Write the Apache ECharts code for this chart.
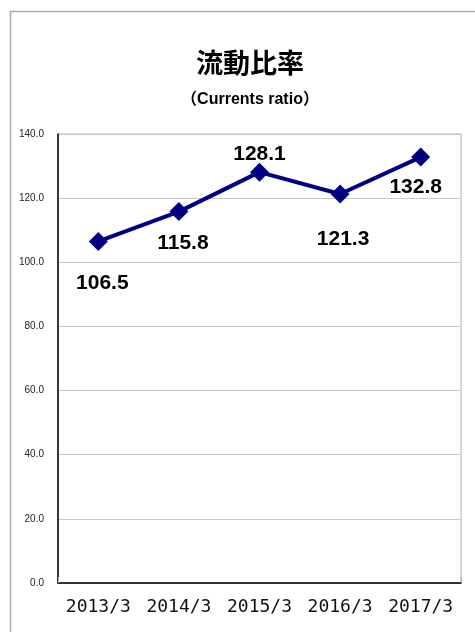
<!DOCTYPE html>
<html>
<head>
<meta charset="utf-8">
<script src="https://cdn.jsdelivr.net/npm/echarts@6/dist/echarts.min.js"></script>
<style>html,body{margin:0;padding:0;background:#fff;}#c{width:475px;height:632px;}</style>
</head>
<body>
<div id="c"></div>
<script>
const categories = ['2013/3', '2014/3', '2015/3', '2016/3', '2017/3'];
const values = [106.5, 115.8, 128.1, 121.3, 132.8];
const yTicks = [0, 20, 40, 60, 80, 100, 120, 140];
const labelOffsets = [[4, 42], [4, 32], [0, -18], [3, 45], [-5, 30]];
const titleText = '流動比率';
const subtitleText = '（Currents ratio）';

const chart = echarts.init(document.getElementById('c'));
chart.setOption({
  animation: false,
  backgroundColor: '#fff',
  graphic: [{
    type: 'rect', left: 8, top: 9, shape: { width: 520, height: 700 },
    style: { fill: 'none', stroke: '#aaaaaa', lineWidth: 1.5 }, silent: true, z: -1
  }, {
    type: 'text', x: 250, y: 63,
    style: { text: titleText, textAlign: 'center', textVerticalAlign: 'middle',
      font: 'bold 27px "Noto Sans CJK JP"', fill: '#000' }
  }, {
    type: 'text', x: 250, y: 100,
    style: { text: subtitleText, textAlign: 'center', textVerticalAlign: 'middle',
      font: 'bold 16px "Liberation Sans", "Noto Sans CJK JP"', fill: '#000' }
  }],
  grid: { left: 58, right: 14, top: 134, bottom: 49, show: true, borderColor: '#b0b0b0', borderWidth: 1 },
  xAxis: {
    type: 'category', data: categories, boundaryGap: true,
    axisLine: { lineStyle: { color: '#000', width: 1.5 } },
    axisTick: { show: true, inside: true, length: 6, interval: (i) => i === 3, lineStyle: { color: '#aaa', width: 1 } },
    axisLabel: { interval: 0, margin: 15, fontFamily: 'DejaVu Sans Mono', fontSize: 18, color: '#111' }
  },
  yAxis: {
    type: 'value', min: yTicks[0], max: yTicks[yTicks.length - 1], interval: 20,
    axisLine: { show: true, lineStyle: { color: '#000', width: 1.5 } },
    axisTick: { show: false },
    splitLine: { lineStyle: { color: '#c8c8c8', width: 1 } },
    axisLabel: { margin: 14, fontFamily: 'Liberation Sans', fontSize: 10, color: '#222', formatter: (v) => v.toFixed(1) }
  },
  series: [{
    type: 'line',
    data: values.map((v, i) => ({
      value: v,
      label: { show: true, position: 'inside', offset: labelOffsets[i] }
    })),
    symbol: 'diamond', symbolSize: 19,
    lineStyle: { color: '#000080', width: 4 },
    itemStyle: { color: '#000080' },
    label: { fontFamily: 'Liberation Sans', fontWeight: 'bold', fontSize: 21, color: '#000', formatter: (p) => p.value.toFixed(1) }
  }]
});
</script>
</body>
</html>
